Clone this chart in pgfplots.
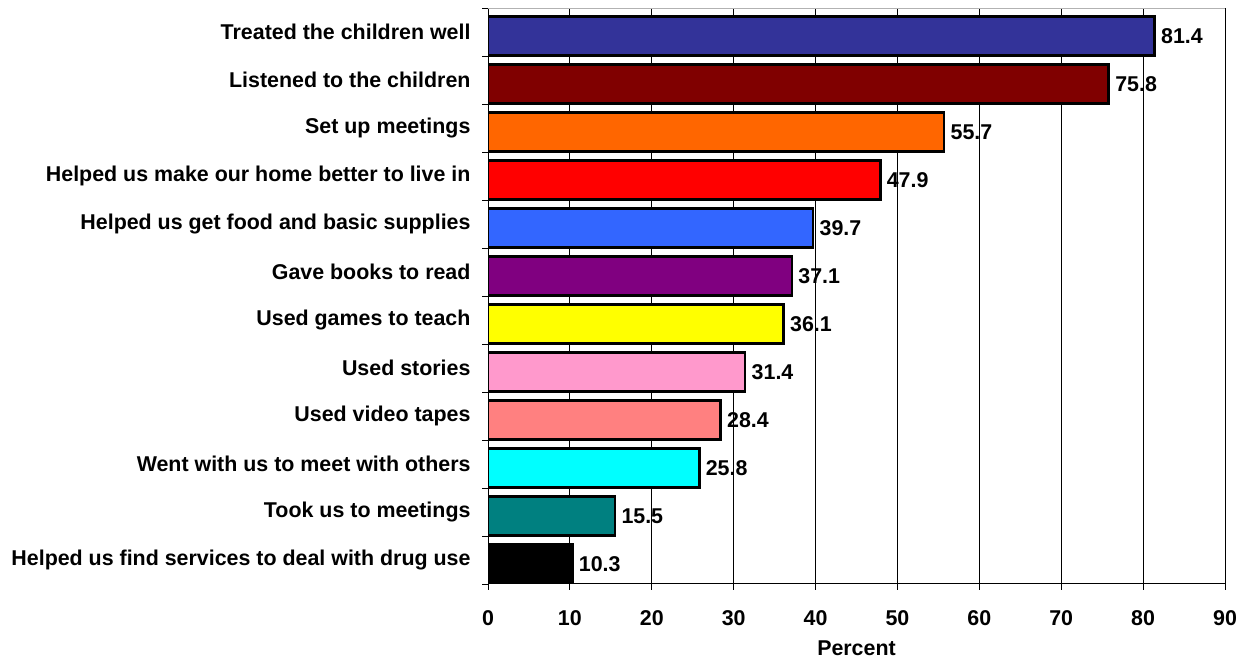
\documentclass[border=0pt]{standalone}
\usepackage{fontspec}
\setmainfont{Liberation Sans}
\usepackage{pgfplots}
\pgfplotsset{compat=1.18}
\definecolor{c0}{HTML}{000000}
\definecolor{c1}{HTML}{008080}
\definecolor{c2}{HTML}{00FFFF}
\definecolor{c3}{HTML}{FF8080}
\definecolor{c4}{HTML}{FF99CC}
\definecolor{c5}{HTML}{FFFF00}
\definecolor{c6}{HTML}{800080}
\definecolor{c7}{HTML}{3366FF}
\definecolor{c8}{HTML}{FF0000}
\definecolor{c9}{HTML}{FF6600}
\definecolor{c10}{HTML}{800000}
\definecolor{c11}{HTML}{333399}
\newcommand{\lbl}{\fontsize{21.4bp}{25bp}\selectfont\bfseries}
\begin{document}
\begin{tikzpicture}[x=1bp,y=1bp]
\path (0,0) rectangle (1250,658);
\begin{axis}[
  at={(488bp,74bp)}, anchor=south west,
  scale only axis, width=737bp, height=576bp,
  xbar, bar width=0.82,
  xmin=0, xmax=90, ymin=-0.5, ymax=11.5,
  axis lines*=left,
  axis line style={black, line width=1bp},
  xtick={0,10,...,90}, ytick={0,...,11},
  yticklabels={Helped us find services to deal with drug use, Took us to meetings, Went with us to meet with others, Used video tapes, Used stories, Used games to teach, Gave books to read, Helped us get food and basic supplies, Helped us make our home better to live in, Set up meetings, Listened to the children, Treated the children well},
  extra y ticks={-0.5,0.5,...,11.5},
  extra y tick labels={},
  extra y tick style={y tick style={draw=black}},
  y tick style={draw=none},
  x tick style={draw=black, line width=0.8bp},
  tick align=outside, major tick length=6bp,
  xmajorgrids, major grid style={black, line width=0.8bp},
  /pgf/number format/assume math mode=true,
  tick label style={font=\lbl, black},
  yticklabel style={xshift=-8bp},
  xticklabel style={yshift=-17bp},
  xlabel={Percent}, xlabel style={font=\lbl, yshift=-8bp},
  nodes near coords,
  nodes near coords style={font=\lbl, black, /pgf/number format/fixed, /pgf/number format/precision=1, /pgf/number format/fixed zerofill, xshift=2bp},
  every axis plot/.append style={bar shift=-4bp, draw=black, line width=2.5bp},
]
\addplot[fill=c0] coordinates {(10.3,0)};
\addplot[fill=c1] coordinates {(15.5,1)};
\addplot[fill=c2] coordinates {(25.8,2)};
\addplot[fill=c3] coordinates {(28.4,3)};
\addplot[fill=c4] coordinates {(31.4,4)};
\addplot[fill=c5] coordinates {(36.1,5)};
\addplot[fill=c6] coordinates {(37.1,6)};
\addplot[fill=c7] coordinates {(39.7,7)};
\addplot[fill=c8] coordinates {(47.9,8)};
\addplot[fill=c9] coordinates {(55.7,9)};
\addplot[fill=c10] coordinates {(75.8,10)};
\addplot[fill=c11] coordinates {(81.4,11)};
\draw[gray!60, line width=0.8bp] (rel axis cs:0,1) -- (rel axis cs:1,1);
\end{axis}
\end{tikzpicture}
\end{document}
